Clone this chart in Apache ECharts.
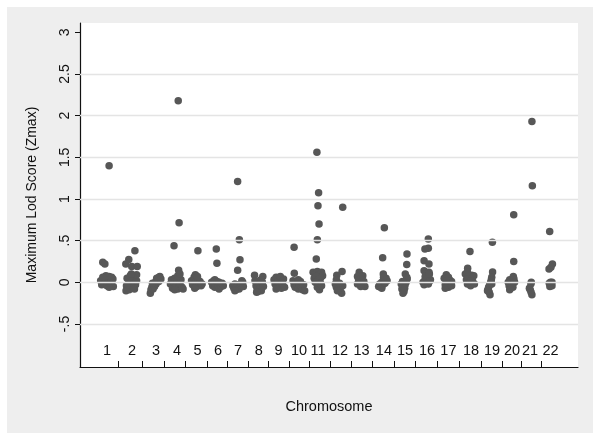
<!DOCTYPE html>
<html>
<head>
<meta charset="utf-8">
<script src="https://cdn.jsdelivr.net/npm/echarts@6/dist/echarts.min.js"></script>
<style>
  html, body { margin: 0; padding: 0; background: #fff; }
  #chart { width: 600px; height: 439px; }
</style>
</head>
<body>
<div id="chart"></div>
<script>
// category labels and where they sit on the position axis
const chromosomes = ['1','2','3','4','5','6','7','8','9','10','11','12','13','14','15','16','17','18','19','20','21','22']
const labelPos = [1.00, 2.18, 3.32, 4.31, 5.28, 6.25, 7.20, 8.18, 9.12, 10.08, 10.98, 12.02, 13.04, 14.10, 15.10, 16.14, 17.15, 18.22, 19.21, 20.16, 21.01, 21.98]
// tick marks between chromosome groups
const bandEdges = [1.55, 2.67, 3.72, 4.72, 5.72, 6.69, 7.67, 8.61, 9.61, 10.56, 11.54, 12.56, 13.55, 14.59, 15.58, 16.61, 17.66, 18.69, 19.69, 20.59, 21.55]
// y axis labels (Stata style) and grid lines
const yTicks = [-0.5, 0, 0.5, 1, 1.5, 2, 2.5, 3]
const yTickText = ['-.5', '0', '.5', '1', '1.5', '2', '2.5', '3']
const gridValues = [-0.5, 0, 0.5, 1, 1.5, 2, 2.5]

// markers: [jittered position, Zmax], one list per chromosome
const markers = [
  // 1
  [[1.10,1.40],[0.80,0.24],[0.90,0.22],[0.70,0.02],[0.75,-0.03],[0.85,0.05],[0.90,0.00],[1.00,-0.04],[1.05,0.03],[1.10,0.07],[1.15,-0.02],[1.20,0.01],[1.28,0.04],[1.30,-0.05],[0.95,0.08],[1.10,-0.06],[0.80,0.06],[1.22,0.06]],
  // 2
  [[2.32,0.38],[2.03,0.275],[1.89,0.22],[2.17,0.19],[2.43,0.19],[1.95,0.05],[2.00,-0.02],[2.10,0.08],[2.15,0.00],[2.20,-0.05],[2.25,0.03],[2.30,0.06],[2.35,-0.03],[2.40,0.02],[2.05,-0.09],[2.30,-0.08],[2.40,0.09],[2.15,0.10],[1.92,-0.04],[1.90,-0.10]],
  // 3
  [[3.05,-0.13],[3.08,-0.09],[3.12,-0.06],[3.18,-0.08],[3.20,-0.03],[3.25,-0.05],[3.28,0.00],[3.32,-0.02],[3.38,0.02],[3.42,0.04],[3.46,0.06],[3.50,0.07],[3.45,0.01],[3.35,0.05],[3.15,-0.01],[3.55,0.04]],
  // 4
  [[4.37,2.18],[4.41,0.715],[4.17,0.44],[4.39,0.145],[4.00,-0.02],[4.05,0.03],[4.10,-0.07],[4.15,0.00],[4.20,0.05],[4.25,-0.04],[4.30,0.02],[4.35,-0.08],[4.40,0.06],[4.45,-0.01],[4.50,0.03],[4.55,-0.06],[4.60,-0.08],[4.35,0.08],[4.20,-0.09],[4.45,0.10]],
  // 5
  [[5.30,0.38],[5.00,0.02],[5.05,-0.03],[5.12,0.06],[5.18,0.09],[5.20,0.00],[5.25,-0.05],[5.30,0.03],[5.35,-0.02],[5.40,0.01],[5.45,-0.04],[5.50,-0.02],[5.15,-0.07],[5.28,0.07]],
  // 6
  [[6.17,0.40],[6.20,0.23],[5.95,0.00],[6.00,-0.04],[6.05,0.02],[6.10,-0.06],[6.15,-0.02],[6.20,0.01],[6.25,-0.05],[6.30,-0.08],[6.35,-0.03],[6.40,-0.05],[6.45,-0.01],[6.50,-0.04],[6.10,0.03],[6.30,0.00]],
  // 7
  [[7.18,1.21],[7.26,0.51],[7.29,0.27],[7.18,0.145],[6.95,-0.04],[7.00,-0.07],[7.05,-0.02],[7.10,-0.09],[7.15,-0.05],[7.20,-0.03],[7.25,-0.08],[7.30,-0.04],[7.35,-0.02],[7.42,0.00],[7.45,-0.05],[7.05,-0.10],[7.38,0.02]],
  // 8
  [[7.98,0.085],[8.37,0.07],[8.00,0.02],[8.05,-0.04],[8.10,-0.08],[8.15,-0.11],[8.20,-0.02],[8.25,-0.06],[8.30,-0.10],[8.35,0.00],[8.40,-0.05],[8.08,-0.12],[8.28,0.03]],
  // 9
  [[8.90,0.03],[8.95,-0.02],[9.00,0.06],[9.05,-0.05],[9.10,0.01],[9.15,-0.03],[9.20,0.07],[9.25,-0.07],[9.30,-0.01],[9.35,0.04],[9.40,-0.06],[9.00,-0.08]],
  // 10
  [[9.85,0.42],[9.86,0.11],[9.80,0.02],[9.85,-0.03],[9.90,-0.06],[9.95,0.00],[10.00,-0.04],[10.05,-0.08],[10.10,-0.02],[10.15,0.01],[10.20,-0.05],[10.25,-0.09],[10.30,-0.03],[10.35,-0.10],[10.05,0.03]],
  // 11
  [[10.93,1.56],[11.01,1.075],[10.98,0.92],[11.03,0.70],[10.95,0.51],[10.90,0.28],[10.75,0.12],[10.85,0.10],[10.95,0.13],[11.05,0.11],[11.15,0.12],[11.20,0.08],[10.80,0.05],[10.90,0.07],[11.00,0.03],[11.10,0.05],[10.85,0.00],[11.00,-0.03],[11.10,-0.01],[10.95,-0.06],[11.05,-0.09],[11.15,-0.04]],
  // 12
  [[12.15,0.90],[12.12,0.13],[11.87,0.085],[11.80,-0.02],[11.85,-0.06],[11.90,-0.03],[11.95,-0.08],[12.00,-0.05],[12.05,-0.11],[12.10,-0.13],[12.15,-0.04],[11.85,0.03],[12.00,-0.01],[11.90,-0.10]],
  // 13
  [[12.93,0.12],[12.85,0.07],[12.90,0.03],[12.95,-0.01],[13.00,0.05],[13.05,0.02],[13.10,-0.03],[13.15,0.01],[13.20,-0.05],[12.85,-0.02],[13.10,0.08],[13.00,-0.05]],
  // 14
  [[14.12,0.655],[14.04,0.295],[14.07,0.10],[13.85,-0.05],[13.90,-0.02],[13.95,-0.06],[14.00,0.00],[14.05,-0.03],[14.10,0.03],[14.15,0.01],[14.20,0.05],[14.25,0.02],[14.00,-0.07],[14.15,-0.01],[14.08,0.06]],
  // 15
  [[15.19,0.34],[15.18,0.215],[15.11,0.10],[14.92,-0.02],[14.95,-0.08],[15.00,-0.05],[15.05,-0.11],[15.10,-0.03],[15.15,0.00],[15.20,0.04],[15.00,-0.13],[15.18,0.06],[14.98,0.01],[15.08,-0.07]],
  // 16
  [[16.20,0.52],[16.20,0.41],[16.04,0.40],[16.00,0.26],[16.23,0.22],[16.00,0.14],[16.23,0.12],[16.18,0.07],[15.95,0.00],[16.00,-0.03],[16.05,0.03],[16.10,-0.01],[16.15,0.02],[16.20,-0.02],[16.25,0.01],[16.30,0.03],[16.05,0.07],[16.25,0.10],[16.20,0.00]],
  // 17
  [[16.95,0.05],[17.00,-0.03],[17.05,0.09],[17.10,0.00],[17.15,-0.06],[17.20,0.03],[17.25,-0.02],[17.30,0.01],[17.00,-0.07],[17.15,0.06],[17.30,-0.04],[17.05,0.02]],
  // 18
  [[18.17,0.37],[18.06,0.17],[18.25,0.085],[17.95,0.10],[18.00,0.03],[18.05,-0.02],[18.10,0.06],[18.15,0.00],[18.20,-0.04],[18.25,0.04],[18.30,0.01],[18.35,0.08],[18.05,0.12],[18.20,0.02],[18.38,-0.02]],
  // 19
  [[19.23,0.48],[19.24,0.125],[19.20,0.06],[19.18,0.03],[19.15,0.00],[19.10,-0.03],[19.05,-0.06],[19.02,-0.09],[19.08,-0.12],[19.12,-0.15],[19.00,-0.10],[19.20,-0.02]],
  // 20
  [[20.24,0.81],[20.24,0.25],[20.22,0.07],[19.98,0.00],[20.02,-0.04],[20.05,0.03],[20.10,-0.02],[20.15,0.01],[20.20,-0.06],[20.25,0.04],[20.05,-0.09],[20.28,0.00],[20.15,-0.05]],
  // 21
  [[21.10,1.93],[21.12,1.16],[21.07,0.00],[21.05,-0.02],[20.98,-0.07],[21.02,-0.09],[21.10,-0.15],[21.06,-0.12]],
  // 22
  [[21.94,0.61],[22.07,0.22],[21.91,0.16],[22.00,0.18],[21.92,-0.01],[21.95,-0.05],[22.00,-0.03],[22.05,-0.04],[21.98,0.00],[22.05,0.00]]
]

const chart = echarts.init(document.getElementById('chart'))
const font = '"Liberation Sans", Arial, sans-serif'
const allPoints = [].concat(...markers)

chart.setOption({
  backgroundColor: '#ffffff',
  animation: false,
  graphic: [{
    type: 'rect', z: -1, silent: true,
    shape: { x: 7, y: 7, width: 586, height: 426 },
    style: { fill: '#eeeeee' }
  }],
  grid: {
    left: 80, top: 23, right: 22, bottom: 72,
    show: true, backgroundColor: '#ffffff', borderWidth: 0
  },
  xAxis: {
    type: 'value',
    min: -0.277, max: 23.28,
    name: 'Chromosome',
    nameLocation: 'middle',
    nameGap: 32,
    nameTextStyle: { fontFamily: font, fontSize: 14.5, color: '#111' },
    axisLine: { onZero: false, lineStyle: { color: '#111', width: 1.2 } },
    axisTick: { inside: true, length: 6, customValues: bandEdges, lineStyle: { color: '#111' } },
    axisLabel: {
      inside: true, margin: 9,
      customValues: labelPos,
      formatter: v => {
        let best = 0
        labelPos.forEach((p, i) => { if (Math.abs(p - v) < Math.abs(labelPos[best] - v)) best = i })
        return chromosomes[best]
      },
      fontFamily: font, fontSize: 14.5, color: '#111'
    },
    splitLine: { show: false }
  },
  yAxis: {
    type: 'value',
    min: -1.016, max: 3.112,
    name: 'Maximum Lod Score (Zmax)',
    nameLocation: 'middle',
    nameGap: 41,
    nameTextStyle: { fontFamily: font, fontSize: 14, color: '#111' },
    axisLine: { show: true, onZero: false, lineStyle: { color: '#111', width: 1.2 } },
    axisTick: { length: 5, customValues: yTicks, lineStyle: { color: '#111' } },
    axisLabel: {
      rotate: 90, margin: 8,
      customValues: yTicks,
      formatter: v => yTickText[yTicks.indexOf(v)] ?? '',
      fontFamily: font, fontSize: 14, color: '#111'
    },
    splitLine: { show: false }
  },
  series: [
    {
      type: 'scatter',
      data: [],
      z: 1,
      markLine: {
        silent: true,
        symbol: 'none',
        label: { show: false },
        lineStyle: { color: '#e4e4e4', width: 1.3, type: 'solid' },
        data: gridValues.map(v => ({ yAxis: v }))
      }
    },
    {
      name: 'Zmax',
      type: 'scatter',
      z: 3,
      symbolSize: 7.5,
      itemStyle: { color: '#575757', opacity: 1 },
      data: allPoints
    }
  ]
})
</script>
</body>
</html>
